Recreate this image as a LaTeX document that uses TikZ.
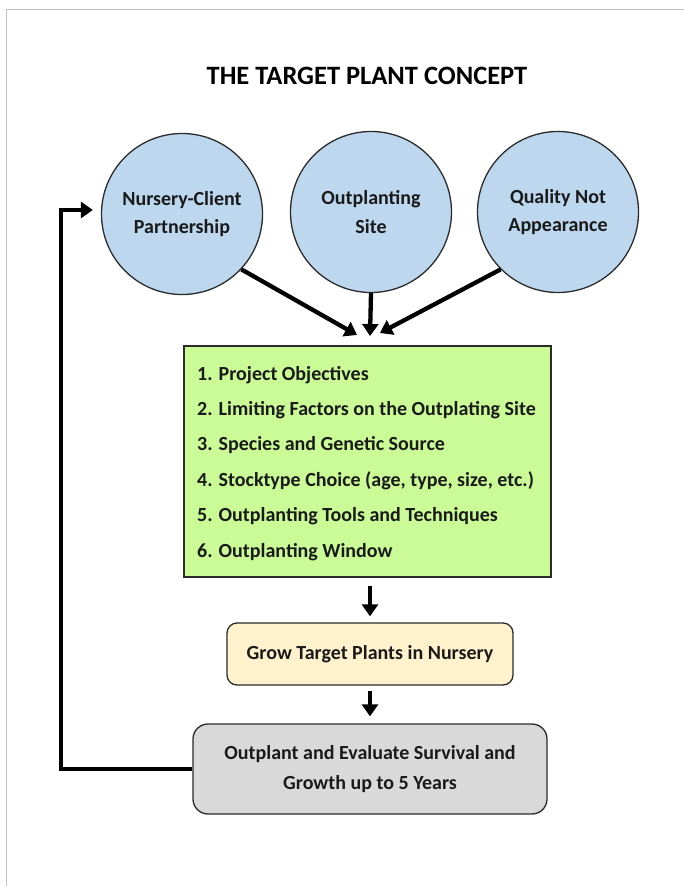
\documentclass[tikz,border=0pt]{standalone}
\usepackage{fontspec}
\setmainfont{Carlito}
\usetikzlibrary{arrows.meta,calc}
\definecolor{circblue}{HTML}{BDD7EE}
\definecolor{boxgreen}{HTML}{CAFB96}
\definecolor{boxyellow}{HTML}{FFF2CC}
\definecolor{boxgray}{HTML}{D9D9D9}
\definecolor{txt}{HTML}{1A1A1A}
\definecolor{edge}{HTML}{2B2B2B}
\definecolor{framegray}{HTML}{BFBFBF}
\tikzset{
  basefont/.style={text=txt, font=\bfseries\fontsize{20}{28.5}\selectfont},
  circ/.style={basefont, circle, draw=edge, line width=1.3pt, fill=circblue,
    minimum size=161pt, inner sep=0pt, align=center},
  listitem/.style={basefont, anchor=base west, inner sep=0pt},
  greenbox/.style={draw=edge, line width=1.3pt, fill=boxgreen, inner sep=0pt,
    minimum width=367pt, minimum height=231pt},
  yellowbox/.style={basefont, draw=edge, line width=1.3pt, fill=boxyellow,
    rounded corners=10pt, minimum width=286pt, minimum height=62pt},
  graybox/.style={text=txt, font=\bfseries\fontsize{20}{30}\selectfont,
    draw=edge, line width=1.3pt, fill=boxgray, rounded corners=15pt,
    minimum width=354pt, minimum height=90pt, align=center},
  arr/.style={line width=4.3pt, draw=black, -{Triangle[length=12pt,width=16pt]}},
}
\begin{document}
\begin{tikzpicture}[x=1pt,y=-1pt]
\useasboundingbox (0,0) rectangle (684,886);
\fill[white] (0,0) rectangle (684,886);
\draw[framegray, line width=1pt] (684,9.5) -- (6.5,9.5) -- (6.5,886);

\node[text=black, font=\bfseries\fontsize{26.5}{30}\selectfont] (title) at (367,76) {THE TARGET PLANT CONCEPT};

\node[circ] (c1) at (182,214) {Nursery-Client\\Partnership};
\node[circ] (c2) at (371,212) {Outplanting\\Site};
\node[circ] (c3) at (558,212) {Quality Not\\Appearance};

\node[greenbox] (g) at (367.5,461.5) {};
\node[listitem] (l1) at (197,380) {1. Project Objectives};
\node[listitem] (l2) at (197,415.4) {2. Limiting Factors on the Outplating Site};
\node[listitem] (l3) at (197,450.8) {3. Species and Genetic Source};
\node[listitem] (l4) at (197,486.2) {4. Stocktype Choice (age, type, size, etc.)};
\node[listitem] (l5) at (197,521.6) {5. Outplanting Tools and Techniques};
\node[listitem] (l6) at (197,557) {6. Outplanting Window};

\node[yellowbox] (y) at (370,654) {Grow Target Plants in Nursery};
\node[graybox] (e) at (370,769) {Outplant and Evaluate Survival and\\Growth up to 5 Years};

\coordinate (tL) at (357,335);
\coordinate (tM) at (370,336);
\coordinate (tR) at (380,333);
\coordinate (fbx) at (61,0);
\coordinate (c1in) at ([yshift=4pt]c1.west);

\draw[arr] (c1.-43) -- (tL);
\draw[arr] (c2.south) -- (tM);
\draw[arr] (c3.-135) -- (tR);

\draw[arr, shorten <=8pt, shorten >=6pt] (g.south -| y.north) -- (y.north);
\draw[arr, shorten <=5pt, shorten >=7pt] (y.south) -- (e.north);

\draw[arr, shorten >=8pt] (e.west) -- (e.west -| fbx) -- (fbx |- c1in) -- (c1in);
\end{tikzpicture}
\end{document}
